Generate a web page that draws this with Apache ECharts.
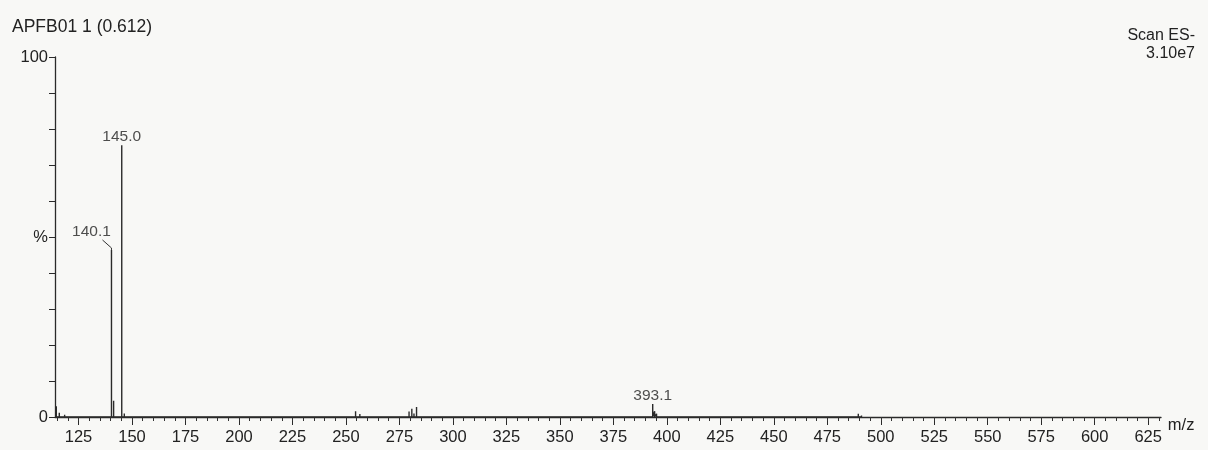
<!DOCTYPE html>
<html>
<head>
<meta charset="utf-8">
<script src="https://cdn.jsdelivr.net/npm/echarts@6/dist/echarts.min.js"></script>
<style>
html,body{margin:0;padding:0;background:#f8f8f6;}
#c{width:1208px;height:450px;}
</style>
</head>
<body>
<div id="c"></div>
<script>
// Stick spectrum: m/z and relative intensity (%)
const peakMz        = [114.6, 116.0, 118.5, 121.0, 128.0, 133.0, 140.4, 141.4, 145.2, 146.4, 152.0, 160.0, 172.0, 182.0, 200.0, 230.0, 254.5, 256.5, 262.0, 279.5, 280.8, 281.8, 283.0, 296.0, 318.0, 363.0, 393.4, 394.3, 395.2, 430.0, 489.5, 491.0];
const peakIntensity = [3.0,   1.2,   0.6,   0.5,   0.5,   0.4,   46.4,  4.5,   75.5,  1.0,   0.5,   0.4,   0.4,   0.5,   0.3,   0.3,   1.6,   0.8,   0.5,   1.5,   2.3,   1.0,   2.8,   0.5,   0.4,   0.5,   3.6,   1.6,   0.9,   0.3,   0.9,   0.4];
// Labelled peaks
const labelMz    = [140.4, 145.2, 393.4];
const labelInt   = [46.4, 75.5, 3.6];
const labelText  = ['140.1', '145.0', '393.1'];
// Axis ticks
const xMajorTicks = [125,150,175,200,225,250,275,300,325,350,375,400,425,450,475,500,525,550,575,600,625];
const xMinorTicks = [];
for (let v = 115; v <= 630; v += 5) xMinorTicks.push(v);
const yTicks = [0,10,20,30,40,50,60,70,80,90,100];
const yLabels = [0,50,100];
const title = 'APFB01 1 (0.612)';
const scanText = 'Scan ES-';
const intensityText = '3.10e7';

const stickData = [];
peakMz.forEach((m, i) => {
  stickData.push([m, 0], [m, peakIntensity[i]], [m, 0]);
});
const labelData = labelMz.map((m, i) => ({ value: [m, labelInt[i]], name: labelText[i] }));

const FONT = '"Liberation Sans", Arial, sans-serif';
const INK = '#222';
const chart = echarts.init(document.getElementById('c'), null, { renderer: 'canvas' });
chart.setOption({
  animation: false,
  backgroundColor: '#f8f8f6',
  textStyle: { fontFamily: FONT, color: INK },
  title: [
    { text: title, left: 7, top: 13, textStyle: { fontFamily: FONT, fontSize: 17.5, fontWeight: 'normal', color: INK } },
    { text: scanText, right: 8, top: 23, textStyle: { fontFamily: FONT, fontSize: 16, fontWeight: 'normal', color: INK } },
    { text: intensityText, right: 8, top: 41, textStyle: { fontFamily: FONT, fontSize: 16, fontWeight: 'normal', color: INK } }
  ],
  grid: { left: 55, right: 47, top: 57, bottom: 33, containLabel: false },
  xAxis: [
    {
      type: 'value', min: 114, max: 631,
      name: 'm/z', nameLocation: 'end', nameGap: 4,
      nameTextStyle: { fontFamily: FONT, fontSize: 16.5, color: INK, verticalAlign: 'top', padding: [0, 0, 0, 0] },
      axisLine: { lineStyle: { color: '#2a2a2a', width: 1.3 } },
      axisTick: { show: true, customValues: xMajorTicks, length: 8, lineStyle: { color: '#2a2a2a' } },
      axisLabel: { customValues: xMajorTicks, fontFamily: FONT, fontSize: 16.5, color: INK, margin: 12 },
      splitLine: { show: false }
    },
    {
      type: 'value', min: 114, max: 631, position: 'bottom',
      axisLine: { show: false },
      axisTick: { show: true, customValues: xMinorTicks, length: 4, lineStyle: { color: '#333' } },
      axisLabel: { show: false },
      splitLine: { show: false }
    }
  ],
  yAxis: {
    type: 'value', min: 0, max: 100,
    axisLine: { show: true, lineStyle: { color: '#2a2a2a', width: 1.3 } },
    axisTick: { show: true, customValues: yTicks, length: 6, lineStyle: { color: '#2a2a2a' } },
    axisLabel: {
      customValues: yLabels, fontFamily: FONT, fontSize: 16.5, color: INK, margin: 7,
      formatter: v => (v === 50 ? '%' : String(v))
    },
    splitLine: { show: false }
  },
  series: [
    {
      type: 'line', xAxisIndex: 0, data: stickData, showSymbol: false, symbol: 'none',
      lineStyle: { color: '#2a2a2a', width: 1.4 }, silent: true
    },
    {
      type: 'scatter', xAxisIndex: 0, data: labelData, symbolSize: 0, silent: true,
      label: {
        show: true, position: 'top', distance: 0,
        formatter: p => p.name,
        fontFamily: FONT, fontSize: 15.5, color: INK
      },
      labelLayout: p => (p.dataIndex === 0 ? { dx: -20, dy: -10 } : {})
    }
  ]
});

// Leader line for the 140.1 label, anchored at the peak top via the chart's own scale
const peakPx = chart.convertToPixel({ xAxisIndex: 0, yAxisIndex: 0 }, [labelMz[0], labelInt[0]]);
chart.setOption({
  graphic: [{
    type: 'polyline', silent: true,
    shape: { points: [[peakPx[0], peakPx[1]], [peakPx[0], peakPx[1] - 2], [peakPx[0] - 9, peakPx[1] - 10]] },
    style: { stroke: '#333', lineWidth: 1, fill: null }
  }]
});
</script>
</body>
</html>
